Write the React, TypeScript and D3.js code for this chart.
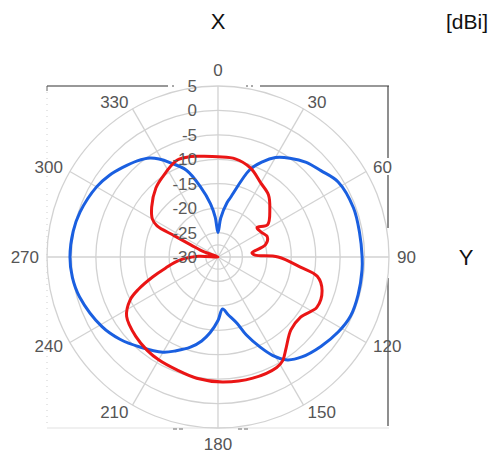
import React, { useRef, useEffect } from 'react';
import * as d3 from 'd3';

// angle in degrees (clockwise from top), gain in dBi
const blueAngles = [0, 4, 9.5, 12, 20, 25, 30, 36, 43, 50, 58, 70, 80, 90, 95, 105, 114, 122, 131, 140, 146, 151, 155, 160, 164, 170, 175, 180, 186, 191, 197, 204, 210, 221, 230, 239, 254, 262, 270, 280, 288, 300, 307, 313, 320, 325.5, 329, 333, 340, 346, 352, 356];
const blueGain = [-25, -22, -18.7, -17.5, -11, -8.5, -6.5, -5, -3.5, -2.5, -1, -0.5, -0.6, -0.5, -0.4, -0.3, -0.3, -1, -2.1, -3.3, -4.6, -7, -9.7, -13, -15.9, -18, -19.3, -17, -14.4, -12.5, -10.7, -9, -7.5, -5.6, -3.8, -2.3, -0.5, 0.1, 0.3, 0.1, -0.3, -1.3, -2.2, -3.2, -4.3, -5.4, -6.6, -8.3, -11.1, -15.2, -19, -21.8];

const redAngles = [0, 10, 20, 30, 39, 47, 57, 53, 60, 67.8, 75.7, 83, 87, 90, 97, 101, 108, 117, 126, 135, 143, 148, 152, 164, 178, 190, 200, 210, 217, 226, 237, 244, 248, 253, 258, 265, 272, 280, 290, 294, 296, 297, 300, 307, 318, 325, 337, 345, 352];
const redGain = [-9.5, -9.6, -10.6, -12.5, -13.6, -15.5, -17.9, -20, -19.8, -19.1, -20, -23, -22.4, -17.7, -13, -9.3, -7.6, -7.3, -9.1, -8.9, -6.8, -5, -4.4, -4.2, -4.4, -4.8, -5.4, -5.7, -6, -6.6, -7.7, -10, -12.5, -16, -19, -22, -26, -30, -27, -24, -20, -16, -14.5, -13, -11, -10.1, -8.5, -8.7, -9.2];

const ringTicks = [-30, -25, -20, -15, -10, -5, 0, 5];
const angleTicks = [0, 30, 60, 90, 120, 150, 180, 210, 240, 270, 300, 330];

const W = 491;
const H = 453;

export default function App() {
  const svgRef = useRef<SVGSVGElement>(null);

  useEffect(() => {
    if (!svgRef.current) return;
    const svg = d3.select(svgRef.current);
    svg.selectAll('*').remove();

    const cx = 218;
    const cy = 257;
    const R = 171;
    const font = 'Liberation Sans, Arial, sans-serif';

    const r = d3.scaleLinear().domain([-30, 5]).range([0, R]).clamp(true);
    const rad = (d: number) => (d * Math.PI) / 180;

    svg.append('rect').attr('width', W).attr('height', H).attr('fill', '#fff');

    // bounding box of the polar axes (with the gaps seen in the picture)
    const box = svg.append('g');
    const x0 = cx - R, x1 = cx + R, y0 = cy - R, y1 = cy + R;
    box.append('line').attr('x1', x0).attr('x2', x1).attr('y1', y1).attr('y2', y1)
      .attr('stroke', '#e2e2e2').attr('stroke-width', 1.2);
    box.append('line').attr('x1', x0).attr('x2', x0).attr('y1', y0).attr('y2', y1)
      .attr('stroke', '#cfcfcf').attr('stroke-width', 1).attr('stroke-dasharray', '1,5');
    [[x0, cx - 50], [cx + 42, x1]].forEach(([a, b]) =>
      box.append('line').attr('x1', a).attr('x2', b).attr('y1', y0).attr('y2', y0)
        .attr('stroke', '#333').attr('stroke-width', 1.2));
    [[cx - 46, cx - 44], [cx + 28, cx + 30], [cx + 33, cx + 35]].forEach(([a, b]) =>
      box.append('line').attr('x1', a).attr('x2', b).attr('y1', y0).attr('y2', y0)
        .attr('stroke', '#555').attr('stroke-width', 1.2));
    [[y0, cy - 99], [cy - 82, cy - 29], [cy + 21, y1 - 2]].forEach(([a, b]) =>
      box.append('line').attr('x1', x1 - 1).attr('x2', x1 - 1).attr('y1', a).attr('y2', b)
        .attr('stroke', '#444').attr('stroke-width', 1.2));
    box.append('line').attr('x1', x0).attr('x2', x0).attr('y1', y0).attr('y2', y0 + 5)
      .attr('stroke', '#666').attr('stroke-width', 1);
    // faint remnants of a hidden caption just under the box
    [[cx - 45, cx - 33], [cx + 20, cx + 32]].forEach(([a, b]) =>
      box.append('line').attr('x1', a).attr('x2', b).attr('y1', y1 + 1).attr('y2', y1 + 1)
        .attr('stroke', '#9a9a9a').attr('stroke-width', 1.5).attr('stroke-dasharray', '4,2'));

    const g = svg.append('g').attr('transform', `translate(${cx},${cy})`);

    // grid rings and spokes
    const ringVals = [-27.5, ...ringTicks.slice(1)];
    g.selectAll('circle.ring').data(ringVals).enter().append('circle')
      .attr('class', 'ring')
      .attr('r', d => r(d))
      .attr('fill', 'none')
      .attr('stroke', '#d2d2d2')
      .attr('stroke-width', 1.3);

    g.selectAll('line.spoke').data(angleTicks).enter().append('line')
      .attr('class', 'spoke')
      .attr('x1', 0).attr('y1', 0)
      .attr('x2', d => r(5) * Math.sin(rad(d)))
      .attr('y2', d => -r(5) * Math.cos(rad(d)))
      .attr('stroke', '#d2d2d2')
      .attr('stroke-width', 1.3);

    // pattern curves
    const line = d3.lineRadial<[number, number]>()
      .angle(d => rad(d[0]))
      .radius(d => r(d[1]))
      .curve(d3.curveCatmullRomClosed.alpha(0.5));

    const blue = blueAngles.map((a, i) => [a, blueGain[i]] as [number, number]);
    const red = redAngles.map((a, i) => [a, redGain[i]] as [number, number]);

    g.append('path').attr('d', line(blue)!)
      .attr('fill', 'none').attr('stroke', '#1a5fe0').attr('stroke-width', 3)
      .attr('stroke-linejoin', 'round');
    g.append('path').attr('d', line(red)!)
      .attr('fill', 'none').attr('stroke', '#ea1515').attr('stroke-width', 3)
      .attr('stroke-linejoin', 'round');

    // radial tick labels along the 0 deg spoke
    g.selectAll('text.rtick').data(ringTicks).enter().append('text')
      .attr('class', 'rtick')
      .attr('x', -21)
      .attr('y', d => -r(d))
      .attr('dy', '0.35em')
      .attr('text-anchor', 'end')
      .attr('font-family', font)
      .attr('font-size', 17)
      .attr('fill', '#5a5a5a')
      .text(d => d);

    // angle labels
    const lr = 179;
    g.selectAll('text.atick').data(angleTicks).enter().append('text')
      .attr('class', 'atick')
      .attr('x', d => lr * Math.sin(rad(d)))
      .attr('y', d => -lr * Math.cos(rad(d)))
      .attr('text-anchor', d => (d === 0 || d === 180 ? 'middle' : d < 180 ? 'start' : 'end'))
      .attr('dy', d => (d === 0 ? '-0.1em' : d === 180 ? '0.85em' : '0.35em'))
      .attr('font-family', font)
      .attr('font-size', 17)
      .attr('fill', '#555')
      .text(d => d);

    // axis names
    svg.append('text').attr('x', cx).attr('y', 29).attr('text-anchor', 'middle')
      .attr('font-family', font).attr('font-size', 22).attr('fill', '#111').text('X');
    svg.append('text').attr('x', 488).attr('y', 29).attr('text-anchor', 'end')
      .attr('font-family', font).attr('font-size', 21).attr('fill', '#111').text('[dBi]');
    svg.append('text').attr('x', 466).attr('y', cy + 8).attr('text-anchor', 'middle')
      .attr('font-family', font).attr('font-size', 22).attr('fill', '#111').text('Y');
  }, []);

  return (
    <svg
      ref={svgRef}
      width={W}
      height={H}
      style={{ position: 'absolute', left: 0, top: 0 }}
    />
  );
}
